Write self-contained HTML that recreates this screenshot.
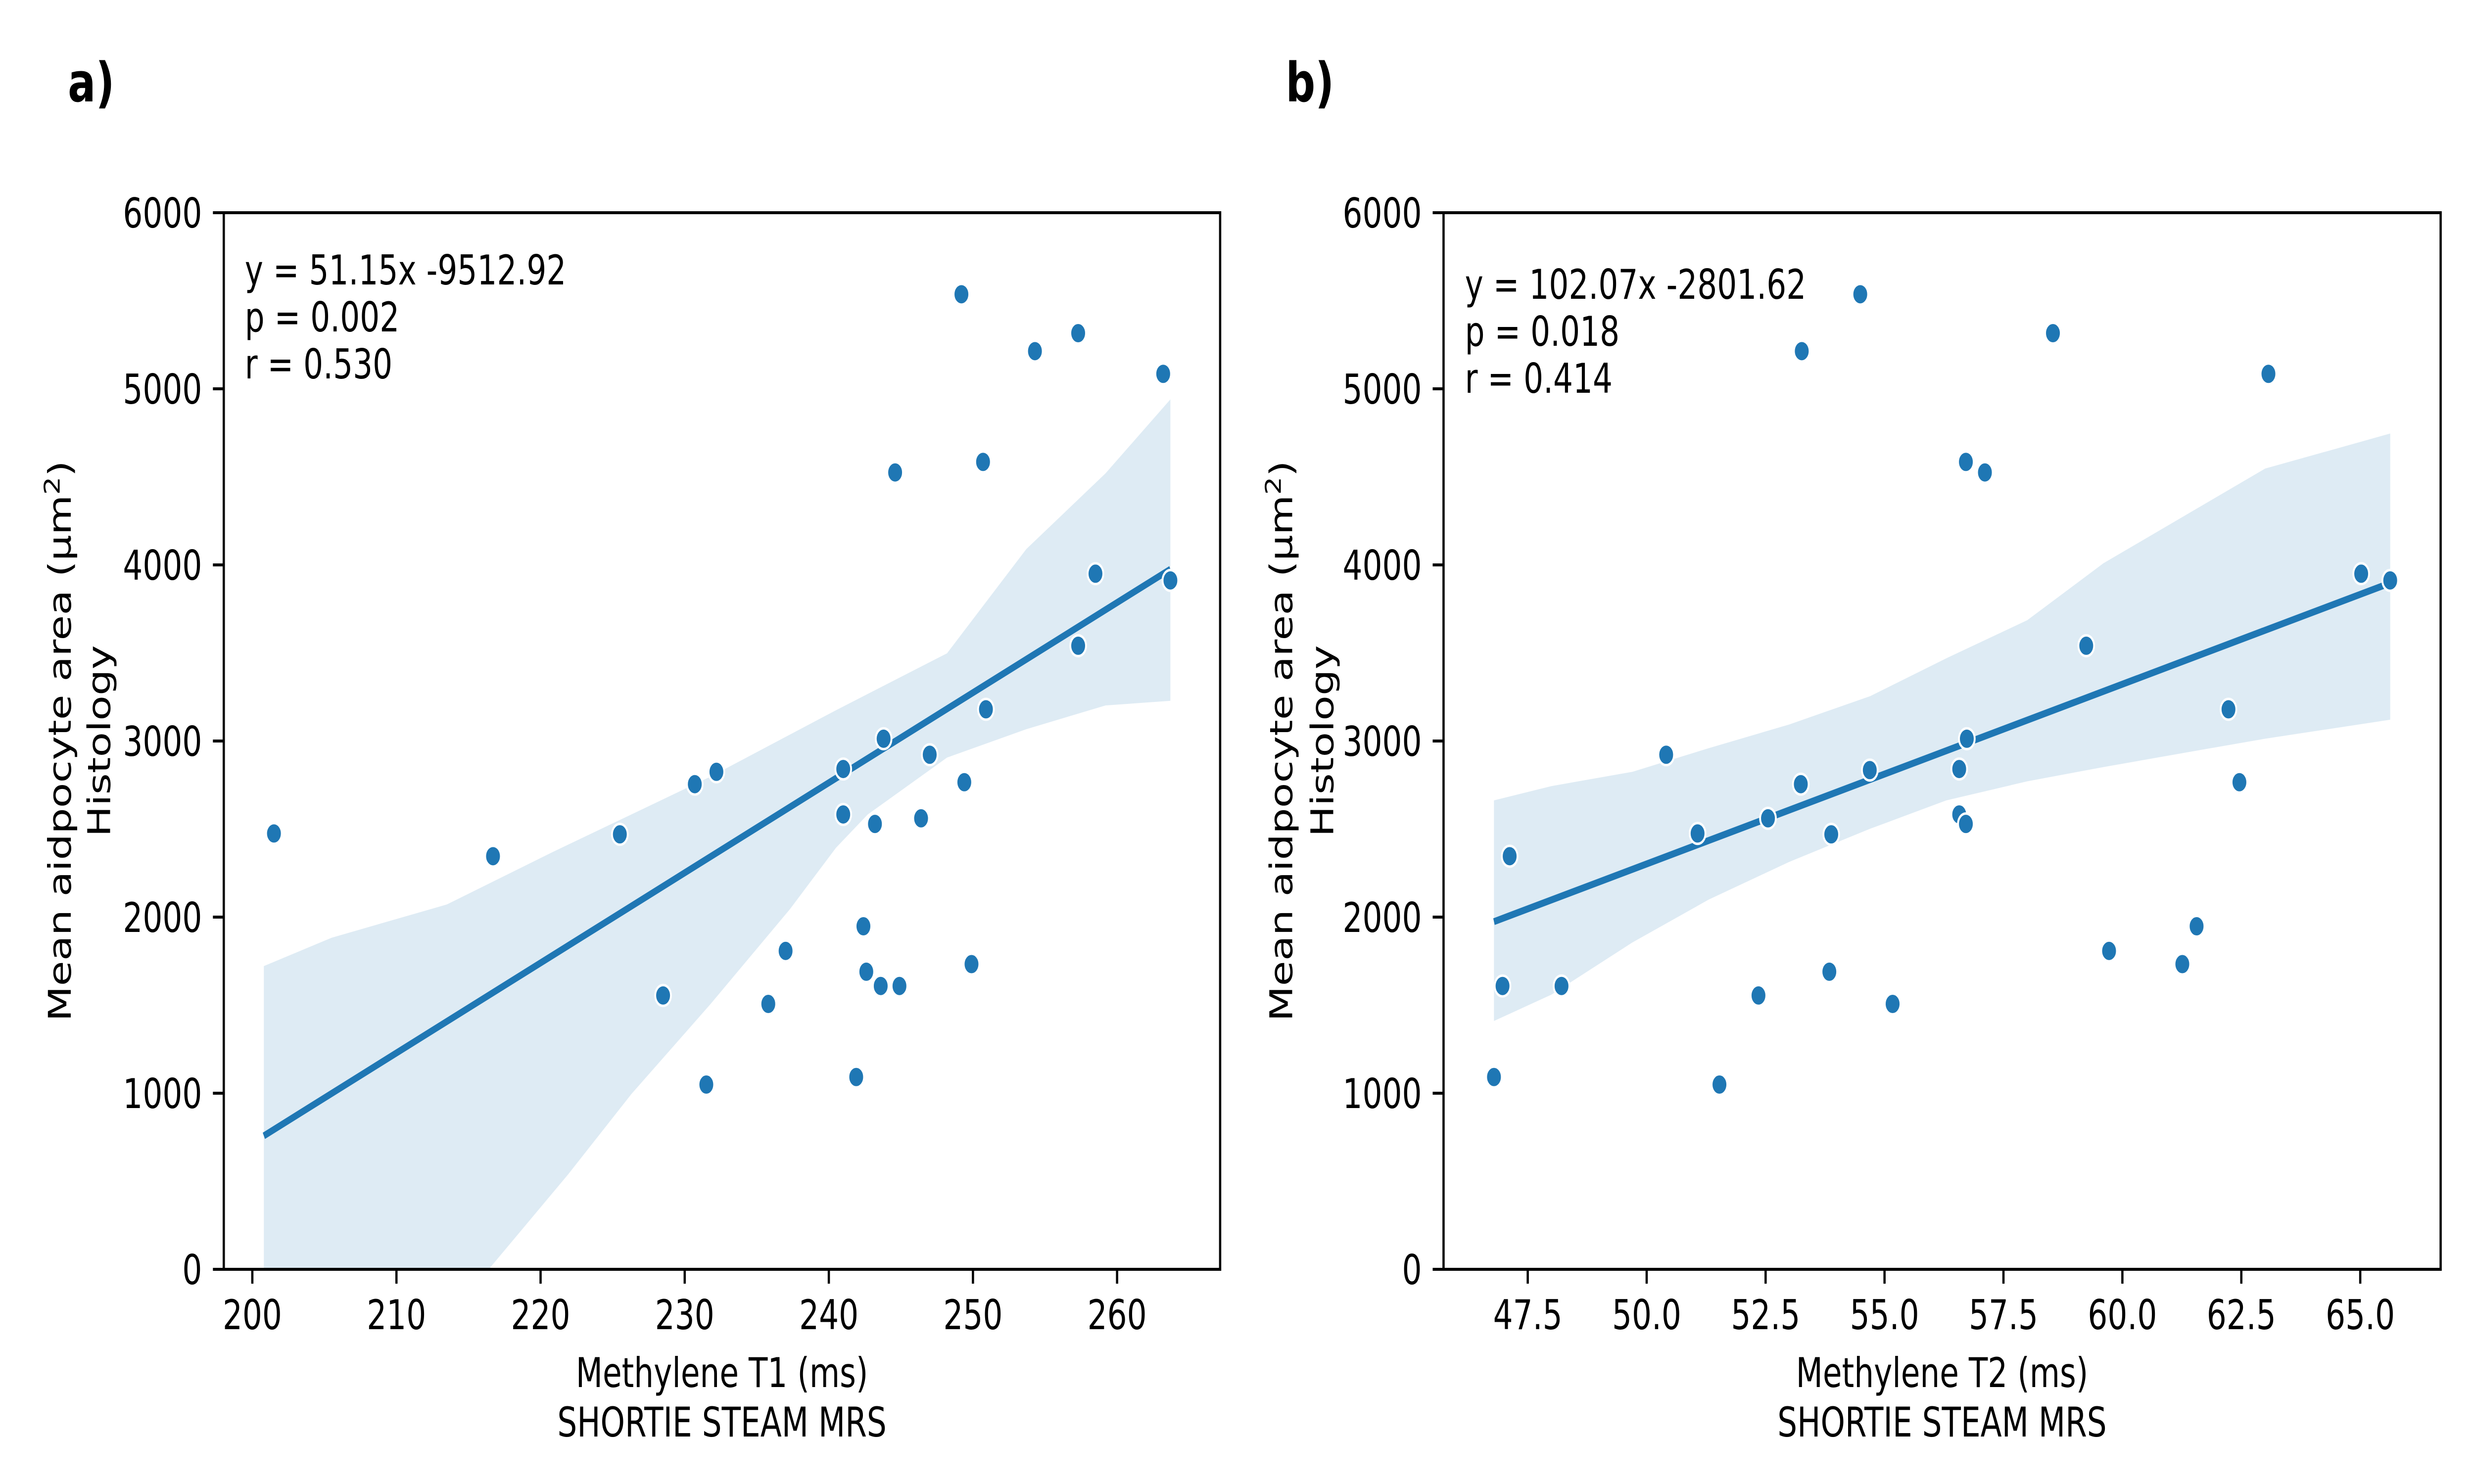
<!DOCTYPE html>
<html><head><meta charset="utf-8">
<style>
html,body{margin:0;padding:0;background:#fff;width:100%;height:100%;overflow:hidden;}
svg{display:block;width:100vw;height:100vh;font-family:"DejaVu Sans","Liberation Sans",sans-serif;}
</style></head>
<body>
<svg id="fig" xmlns="http://www.w3.org/2000/svg" viewBox="0 0 6600 3000" preserveAspectRatio="none">
<rect width="6600" height="3000" fill="#fff"/>
</svg>
<script>
// ---------- Panel a data ----------
const aT1 = [201.5,216.7,225.5,228.5,230.7,232.2,231.5,235.8,237.0,241.0,241.0,243.2,243.8,244.6,242.4,242.6,243.6,244.9,241.9,246.4,247.0,249.2,249.4,249.9,250.7,250.9,254.3,257.3,257.3,258.5,263.2,263.7];
const aArea = [2475,2346,2470,1555,2755,2825,1049,1507,1808,2841,2583,2529,3013,4525,1948,1690,1609,1609,1092,2561,2922,5537,2766,1733,4585,3180,5214,5316,3541,3950,5085,3912];
const aFit = [51.15,-9512.92];
const aFitRange = [200.8,263.7];
const aBandUpX = [200.8,205.5,213.5,220.8,231.8,240.5,248.2,253.7,259.2,263.7];
const aBandUpY = [1722,1883,2072,2368,2798,3175,3498,4090,4520,4940];
const aBandLoX = [200.8,208.0,216.4,221.9,226.3,231.8,237.3,240.5,242.7,248.2,253.7,259.2,263.7];
const aBandLoY = [-1400,-700,0,538,995,1507,2045,2394,2583,2906,3067,3202,3228];
const aXTicks = [200,210,220,230,240,250,260];
const aAnn = ["y = 51.15x -9512.92","p = 0.002","r = 0.530"];
// ---------- Panel b data ----------
const bT2 = [46.79,46.97,47.12,48.21,50.41,51.07,51.53,52.35,52.55,53.24,53.26,53.84,53.88,54.49,54.69,55.17,56.57,56.57,56.71,56.73,56.71,57.11,58.54,59.24,59.72,61.26,61.56,62.23,62.46,63.07,65.02,65.63];
const bArea = [1092,1609,2346,1609,2922,2475,1049,1555,2561,2755,5214,1690,2470,5537,2835,1507,2841,2583,2529,3013,4585,4525,5316,3541,1808,1733,1948,3180,2766,5085,3950,3912];
const bFit = [102.07,-2801.62];
const bFitRange = [46.79,65.63];
const bBandUpX = [46.79,48.0,49.7,51.3,53.0,54.7,56.3,58.0,59.6,61.3,63.0,65.63];
const bBandUpY = [2663,2744,2825,2959,3094,3255,3470,3686,4009,4278,4547,4746];
const bBandLoX = [46.79,48.0,49.7,51.3,53.0,54.7,56.3,58.0,59.6,61.3,63.0,65.63];
const bBandLoY = [1410,1560,1856,2099,2314,2502,2663,2771,2852,2933,3013,3121];
const bXTicks = [47.5,50.0,52.5,55.0,57.5,60.0,62.5,65.0];
const bAnn = ["y = 102.07x -2801.62","p = 0.018","r = 0.414"];
const yTicks = [0,1000,2000,3000,4000,5000,6000];

const NS = "http://www.w3.org/2000/svg";
const svg = document.getElementById('fig');
const C = "#1f77b4";
function mk(tag, attrs, parent){
  const e = document.createElementNS(NS, tag);
  for (const k in attrs) e.setAttribute(k, attrs[k]);
  (parent||svg).appendChild(e);
  return e;
}
function panel(p){
  const g = mk('g', {});
  
  
  const L=p.left, R=p.right, T=430, B=2566;
  const sx = v => L + (v - p.xmin) / (p.xmax - p.xmin) * (R - L);
  const sy = v => B - (v - 0) / 6000 * (B - T);
  const clipId = 'clip-' + p.id;
  const cp = mk('clipPath', {id: clipId}, g);
  mk('rect', {x:L, y:T, width:R-L, height:B-T}, cp);
  let d = '';
  p.upX.forEach((x,i)=>{ d += (i?'L':'M') + sx(x).toFixed(1) + ' ' + sy(p.upY[i]).toFixed(1) + ' '; });
  for (let i=p.loX.length-1;i>=0;i--) d += 'L' + sx(p.loX[i]).toFixed(1) + ' ' + sy(p.loY[i]).toFixed(1) + ' ';
  const band = mk('path', {d: d + 'Z', fill: C, 'fill-opacity': 0.15, stroke:'none', 'clip-path':'url(#'+clipId+')'}, g);
  
  
  const x0=p.range[0], x1=p.range[1];
  const line = mk('line', {x1:sx(x0), y1:sy(p.fit[0]*x0+p.fit[1]), x2:sx(x1), y2:sy(p.fit[0]*x1+p.fit[1]), stroke:C, 'stroke-width':14, 'clip-path':'url(#'+clipId+')'}, g);
  
  
  p.xs.forEach((x,i)=>{
    const c = mk('circle', {cx:sx(x), cy:sy(p.ys[i]), r:21, fill:C, stroke:'#fff', 'stroke-width':5}, g);
    
    
  });
  const sp = mk('rect', {x:L, y:T, width:R-L, height:B-T, fill:'none', stroke:'#000', 'stroke-width':6}, g);
  
  
  p.xticks.forEach(v=>{
    const x = sx(v);
    mk('line', {x1:x, y1:B, x2:x, y2:B+29, stroke:'#000', 'stroke-width':6}, g);
    const t = mk('text', {x:x, y:2687, 'font-size':83, 'text-anchor':'middle', fill:'#000'}, g);
    t.textContent = p.xfmt(v);
    
    
  });
  yTicks.forEach(v=>{
    const y = sy(v);
    mk('line', {x1:L-29, y1:y, x2:L, y2:y, stroke:'#000', 'stroke-width':6}, g);
    const t = mk('text', {x:L-58, y:y+30, 'font-size':83, 'text-anchor':'end', fill:'#000'}, g);
    t.textContent = String(v);
    
    
  });
  p.ann.forEach((s,i)=>{
    const t = mk('text', {x:p.annX, y:p.annY + i*95, 'font-size':83, fill:'#000'}, g);
    t.textContent = s;
    
    
  });
  const cx = (L+R)/2;
  const xt1 = mk('text', {x:cx, y:2804, 'font-size':83, 'text-anchor':'middle', fill:'#000'}, g);
  xt1.textContent = p.xtitle;
  
  
  const xt2 = mk('text', {x:cx, y:2904, 'font-size':83, 'text-anchor':'middle', fill:'#000'}, g);
  xt2.textContent = 'SHORTIE STEAM MRS';
  
  
  const cy = (T+B)/2;
  const yt1 = mk('text', {x:0, y:0, 'font-size':83, 'text-anchor':'middle', fill:'#000', transform:'translate('+p.yl1+','+cy+') rotate(-90)'}, g);
  yt1.innerHTML = 'Mean aidpocyte area (µm<tspan dy="-30" font-size="58">2</tspan><tspan dy="30">)</tspan>';
  
  
  const yt2 = mk('text', {x:0, y:0, 'font-size':83, 'text-anchor':'middle', fill:'#000', transform:'translate('+p.yl2+','+cy+') rotate(-90)'}, g);
  yt2.textContent = 'Histology';
  
  
  const pl = mk('text', {x:p.labX, y:205, 'font-size':110, 'font-weight':'bold', fill:'#000'}, g);
  pl.textContent = p.label;
  
  
}
panel({id:'a', left:597, right:3255, xmin:198.02, xmax:267.15, xs:aT1, ys:aArea, fit:aFit, range:aFitRange,
  upX:aBandUpX, upY:aBandUpY, loX:aBandLoX, loY:aBandLoY, xticks:aXTicks, xfmt:v=>String(v),
  ann:aAnn, annX:653, annY:575, xtitle:'Methylene T1 (ms)', yl1:189, yl2:294, labX:181, label:'a)'});
panel({id:'b', left:3851, right:6511, xmin:45.73, xmax:66.69, xs:bT2, ys:bArea, fit:bFit, range:bFitRange,
  upX:bBandUpX, upY:bBandUpY, loX:bBandLoX, loY:bBandLoY, xticks:bXTicks, xfmt:v=>v.toFixed(1),
  ann:bAnn, annX:3908, annY:604, xtitle:'Methylene T2 (ms)', yl1:3447, yl2:3557, labX:3430, label:'b)'});
</script>
</body></html>
